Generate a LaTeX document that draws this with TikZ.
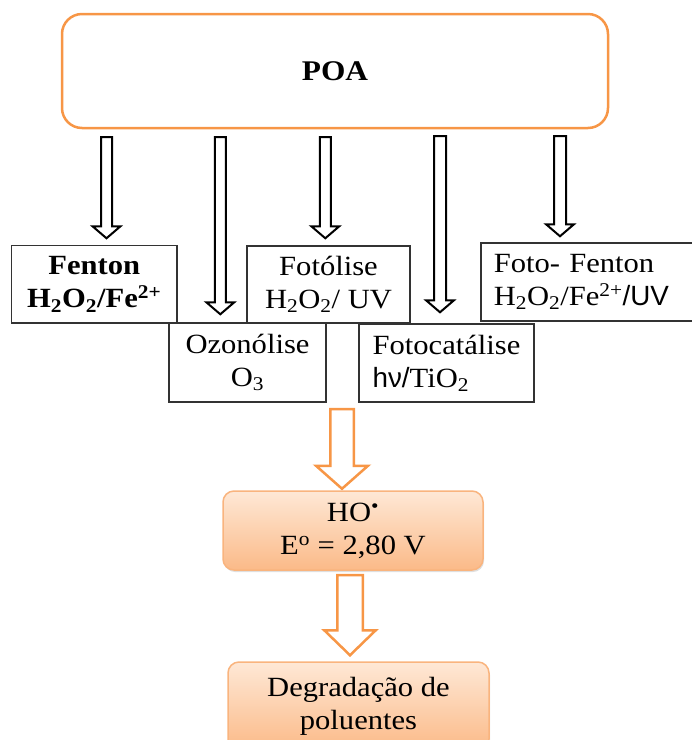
\documentclass[tikz,border=0pt]{standalone}
\usepackage{fontspec}
\setmainfont{Liberation Serif}[FakeStretch=1.1]
\newfontfamily\arialfont{Liberation Sans}
\usetikzlibrary{calc,shadows}

\definecolor{poaorange}{HTML}{F79646}
\definecolor{gradtop}{HTML}{FEE8D6}
\definecolor{gradbot}{HTML}{FBBA88}
\definecolor{gradborder}{HTML}{F9B47E}
\definecolor{boxline}{HTML}{333333}

% #1 style, #2 top coordinate, #3 tip coordinate, #4 shaft half width, #5 head half width, #6 head length
\newcommand{\varrow}[6]{%
  \draw[#1] let \p1=(#2), \p2=(#3) in
    (\x1-#4,\y1) -- (\x1+#4,\y1) -- (\x1+#4,\y2+#6) -- (\x1+#5,\y2+#6)
    -- (\x1,\y2) -- (\x1-#5,\y2+#6) -- (\x1-#4,\y2+#6) -- cycle;
}

\tikzset{
  txtbase/.style={font=\fontsize{27.8}{33}\selectfont, inner sep=0pt},
  poabox/.style={txtbase, draw=poaorange, line width=2.5pt, rounded corners=20pt,
    minimum width=546pt, minimum height=114pt, font=\fontsize{28.5}{33}\selectfont\bfseries},
  mbox/.style={txtbase, draw=boxline, line width=1.5pt, fill=white},
  obox/.style={txtbase, draw=gradborder, line width=1.5pt, rounded corners=11pt,
    top color=gradtop, bottom color=gradbot, align=center,
    drop shadow={shadow xshift=1pt, shadow yshift=-2pt, opacity=0.25}},
  blackarrow/.style={draw=black, line width=2pt, fill=white},
  orangearrow/.style={draw=poaorange, line width=2.5pt, fill=white},
}

\begin{document}
\begin{tikzpicture}[x=1pt,y=-1pt]
\useasboundingbox (0,0) rectangle (692,740);
\clip (0,0) rectangle (692,740);

\node[poabox] (poa) at (335,71) {POA};

\node[mbox, align=center, minimum width=165.5pt, minimum height=77.5pt] (fenton) at (94.25,284.25)
  {\bfseries Fenton\\\bfseries H\textsubscript{2}O\textsubscript{2}/Fe\textsuperscript{2+}};
\node[mbox, align=center, minimum width=163pt, minimum height=77pt] (fotolise) at (328.5,284.5)
  {Fotólise\\H\textsubscript{2}O\textsubscript{2}/ UV};
\node[mbox, align=left, anchor=west, text width=220pt, inner xsep=13pt, minimum height=78pt] (fotofenton) at (480,282)
  {Foto- Fenton\\H\textsubscript{2}O\textsubscript{2}/Fe\textsuperscript{2+}{\arialfont /UV}};
\node[mbox, align=center, minimum width=157pt, minimum height=79pt] (ozon) at (247.5,362.5)
  {Ozonólise\\O\textsubscript{3}};
\node[mbox, align=left, minimum width=175pt, minimum height=78pt] (fotocat) at (446.5,363)
  {Fotocatálise\\{\arialfont hν/}TiO\textsubscript{2}};

\node[obox, minimum width=260pt, minimum height=79pt] (ho) at (353,530.5)
  {HO\textsuperscript{•}\\E\textsuperscript{o} = 2,80 V};
\node[obox, minimum width=261pt, minimum height=88pt] (deg) at (358.5,706)
  {Degradação de\\poluentes};

% black hollow arrows
\coordinate (a1s) at (106.5,137);
\coordinate (a2s) at (220.3,137);
\coordinate (a3s) at (325.3,137);
\coordinate (a4s) at (440,136);
\coordinate (a5s) at (560,136);
\coordinate (a1e) at ($(a1s |- fenton.north)+(0,-6.5)$);
\coordinate (a2e) at ($(a2s |- ozon.north)+(0,-8)$);
\coordinate (a3e) at ($(a3s |- fotolise.north)+(0,-7)$);
\coordinate (a4e) at ($(a4s |- fotocat.north)+(0,-11)$);
\coordinate (a5e) at ($(a5s |- fotofenton.north)+(0,-6)$);
\varrow{blackarrow}{a1s}{a1e}{5.5pt}{14pt}{12pt}
\varrow{blackarrow}{a2s}{a2e}{5.5pt}{14pt}{12pt}
\varrow{blackarrow}{a3s}{a3e}{5.5pt}{14pt}{12pt}
\varrow{blackarrow}{a4s}{a4e}{6pt}{14pt}{12pt}
\varrow{blackarrow}{a5s}{a5e}{6pt}{14pt}{12pt}

% orange hollow arrows
\coordinate (o1s) at (342,409);
\coordinate (o1e) at ($(o1s |- ho.north)+(0,-1.5)$);
\coordinate (o2s) at (350,575);
\coordinate (o2e) at ($(o2s |- deg.north)+(0,-6)$);
\varrow{orangearrow}{o1s}{o1e}{11.75pt}{26pt}{23pt}
\varrow{orangearrow}{o2s}{o2e}{12.75pt}{25.75pt}{25pt}
\end{tikzpicture}
\end{document}
